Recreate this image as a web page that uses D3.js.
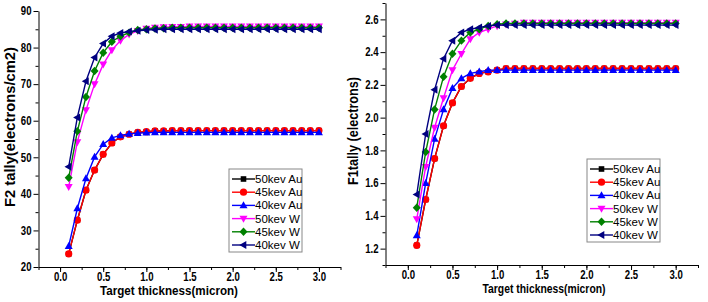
<!DOCTYPE html>
<html>
<head>
<meta charset="utf-8">
<script src="https://cdn.jsdelivr.net/npm/d3@7"></script>
<style>
  body { margin: 0; background: #fff; }
  text { font-family: Arial, "Liberation Sans", sans-serif; }
</style>
</head>
<body>
<svg id="chart" width="708" height="302"></svg>
<script>
// thickness values (micron), one per point
const thickness = [0.1, 0.2, 0.3, 0.4, 0.5, 0.6, 0.7, 0.8, 0.9, 1.0,
  1.1, 1.2, 1.3, 1.4, 1.5, 1.6, 1.7, 1.8, 1.9, 2.0,
  2.1, 2.2, 2.3, 2.4, 2.5, 2.6, 2.7, 2.8, 2.9, 3.0];

const seriesNames = ["50kev Au", "45kev Au", "40kev Au", "50kev W", "45kev W", "40kev W"];
const seriesColors = ["#000000", "#ff0000", "#0000ff", "#ff00ff", "#008000", "#000080"];
const seriesMarkers = ["square", "circle", "up", "down", "diamond", "left"];

// F2 tally (electrons/cm2)
const f2Au50 = [23.6, 32.8, 41.0, 46.5, 50.8, 53.9, 55.6, 56.3, 56.8, 57.0,
  57.2, 57.2, 57.3, 57.3, 57.3, 57.3, 57.3, 57.3, 57.3, 57.3,
  57.3, 57.3, 57.3, 57.3, 57.3, 57.3, 57.3, 57.3, 57.3, 57.3];
const f2Au45 = [23.6, 32.8, 41.0, 46.5, 50.8, 53.9, 55.6, 56.3, 56.8, 57.0,
  57.2, 57.2, 57.3, 57.3, 57.3, 57.3, 57.3, 57.3, 57.3, 57.3,
  57.3, 57.3, 57.3, 57.3, 57.3, 57.3, 57.3, 57.3, 57.3, 57.3];
const f2Au40 = [25.7, 36.0, 44.2, 50.1, 53.6, 55.3, 56.0, 56.4, 56.6, 56.7,
  56.8, 56.8, 56.8, 56.8, 56.8, 56.8, 56.8, 56.8, 56.8, 56.8,
  56.8, 56.8, 56.8, 56.8, 56.8, 56.8, 56.8, 56.8, 56.8, 56.8];
const f2W50 = [41.9, 54.2, 62.9, 70.0, 75.4, 79.3, 81.9, 83.6, 84.6, 85.2,
  85.5, 85.6, 85.7, 85.7, 85.8, 85.8, 85.8, 85.8, 85.8, 85.8,
  85.8, 85.8, 85.8, 85.8, 85.8, 85.8, 85.8, 85.8, 85.8, 85.8];
const f2W45 = [44.4, 57.1, 66.5, 73.6, 78.6, 81.6, 83.1, 84.1, 84.8, 85.0,
  85.2, 85.3, 85.4, 85.4, 85.4, 85.4, 85.4, 85.4, 85.4, 85.4,
  85.4, 85.4, 85.4, 85.4, 85.4, 85.4, 85.4, 85.4, 85.4, 85.4];
const f2W40 = [47.4, 60.9, 70.8, 77.3, 81.1, 83.1, 84.0, 84.4, 84.6, 84.8,
  84.9, 85.0, 85.0, 85.0, 85.0, 85.0, 85.0, 85.0, 85.0, 85.0,
  85.0, 85.0, 85.0, 85.0, 85.0, 85.0, 85.0, 85.0, 85.0, 85.0];

// F1 tally (electrons)
const f1Au50 = [1.22, 1.50, 1.75, 1.95, 2.09, 2.19, 2.24, 2.27, 2.28, 2.29,
  2.30, 2.30, 2.30, 2.30, 2.30, 2.30, 2.30, 2.30, 2.30, 2.30,
  2.30, 2.30, 2.30, 2.30, 2.30, 2.30, 2.30, 2.30, 2.30, 2.30];
const f1Au45 = [1.22, 1.50, 1.75, 1.95, 2.09, 2.19, 2.24, 2.27, 2.28, 2.29,
  2.30, 2.30, 2.30, 2.30, 2.30, 2.30, 2.30, 2.30, 2.30, 2.30,
  2.30, 2.30, 2.30, 2.30, 2.30, 2.30, 2.30, 2.30, 2.30, 2.30];
const f1Au40 = [1.28, 1.60, 1.87, 2.05, 2.18, 2.24, 2.27, 2.28, 2.29, 2.29,
  2.29, 2.29, 2.29, 2.29, 2.29, 2.29, 2.29, 2.29, 2.29, 2.29,
  2.29, 2.29, 2.29, 2.29, 2.29, 2.29, 2.29, 2.29, 2.29, 2.29];
const f1W50 = [1.38, 1.70, 1.94, 2.12, 2.29, 2.39, 2.48, 2.52, 2.54, 2.56,
  2.57, 2.575, 2.58, 2.58, 2.58, 2.58, 2.58, 2.58, 2.58, 2.58,
  2.58, 2.58, 2.58, 2.58, 2.58, 2.58, 2.58, 2.58, 2.58, 2.58];
const f1W45 = [1.45, 1.79, 2.05, 2.25, 2.39, 2.47, 2.52, 2.54, 2.56, 2.57,
  2.575, 2.575, 2.575, 2.575, 2.575, 2.575, 2.575, 2.575, 2.575, 2.575,
  2.575, 2.575, 2.575, 2.575, 2.575, 2.575, 2.575, 2.575, 2.575, 2.575];
const f1W40 = [1.53, 1.90, 2.17, 2.36, 2.47, 2.52, 2.54, 2.55, 2.56, 2.565,
  2.565, 2.565, 2.565, 2.565, 2.565, 2.565, 2.565, 2.565, 2.565, 2.565,
  2.565, 2.565, 2.565, 2.565, 2.565, 2.565, 2.565, 2.565, 2.565, 2.565];

const xTicks = [0.0, 0.5, 1.0, 1.5, 2.0, 2.5, 3.0];
const f2Ticks = [20, 30, 40, 50, 60, 70, 80, 90];
const f1Ticks = [1.2, 1.4, 1.6, 1.8, 2.0, 2.2, 2.4, 2.6];

const svg = d3.select("#chart");

// marker shapes, centred on 0,0
function markerPath(type) {
  switch (type) {
    case "square": return "M-2.8,-2.8h5.6v5.6h-5.6z";
    case "up": return "M0,-4.2L4,2.8L-4,2.8Z";
    case "down": return "M0,4.2L4,-2.8L-4,-2.8Z";
    case "diamond": return "M0,-4.2L4,0L0,4.2L-4,0Z";
    case "left": return "M-4.2,0L2.8,-4L2.8,4Z";
  }
  return null;
}

function addMarker(g, type, color, x, y) {
  if (type == "circle") {
    g.append("circle").attr("cx", x).attr("cy", y).attr("r", 3.6).attr("fill", color);
  } else {
    g.append("path").attr("d", markerPath(type))
      .attr("transform", "translate(" + x + "," + y + ")")
      .attr("fill", color);
  }
}

// squeeze text horizontally, the original fonts are narrow
function squeeze(sel, k) {
  sel.each(function() {
    let w = this.getComputedTextLength();
    d3.select(this).attr("textLength", w * k).attr("lengthAdjust", "spacingAndGlyphs");
  });
}

function drawPanel(p) {
  let x = d3.scaleLinear().domain([-0.25, 3.25]).range(p.xRange);
  let y = d3.scaleLinear().domain(p.yDomain).range(p.yRange);
  let g = svg.append("g");

  // minor ticks
  g.append("g")
    .attr("transform", "translate(0," + p.yRange[0] + ")")
    .call(d3.axisBottom(x).tickValues(d3.range(-0.25, 3.3, 0.25)).tickSize(3).tickFormat("").tickSizeOuter(0))
    .call(a => a.select(".domain").remove());
  g.append("g")
    .attr("transform", "translate(" + p.xRange[0] + ",0)")
    .call(d3.axisLeft(y).tickValues(p.minor).tickSize(3).tickFormat("").tickSizeOuter(0))
    .call(a => a.select(".domain").remove());

  let xAxis = g.append("g")
    .attr("transform", "translate(0," + p.yRange[0] + ")")
    .call(d3.axisBottom(x).tickValues(xTicks).tickSize(5).tickPadding(0).tickSizeOuter(0).tickFormat(d3.format(".1f")));
  let yAxis = g.append("g")
    .attr("transform", "translate(" + p.xRange[0] + ",0)")
    .call(d3.axisLeft(y).tickValues(p.ticks).tickSize(5).tickPadding(2).tickSizeOuter(0).tickFormat(p.fmt));

  [xAxis, yAxis].forEach(a => {
    a.attr("font-size", null).attr("font-family", null);
    a.selectAll("text").attr("font-size", 12).attr("font-weight", "bold").attr("fill", "#000");
    a.selectAll("line, path").attr("stroke", "#000");
    squeeze(a.selectAll("text"), 0.8);
  });

  // series
  let line = d3.line().x(d => x(d[0])).y(d => y(d[1]));
  p.series.forEach((vals, i) => {
    let pts = thickness.map((t, j) => [t, vals[j]]);
    g.append("path").datum(pts).attr("d", line)
      .attr("fill", "none").attr("stroke", seriesColors[i]).attr("stroke-width", 1.4);
    pts.forEach(d => addMarker(g, seriesMarkers[i], seriesColors[i], x(d[0]), y(d[1])));
  });

  // axis titles
  g.append("text")
    .attr("x", p.xTitle[0]).attr("y", p.xTitle[1])
    .attr("text-anchor", "middle").attr("font-size", 13.5).attr("font-weight", "bold")
    .attr("textLength", p.xTitle[2]).attr("lengthAdjust", "spacingAndGlyphs")
    .text("Target thickness(micron)");
  g.append("text")
    .attr("transform", "translate(" + p.yTitle[0] + "," + p.yTitle[1] + ") rotate(-90)")
    .attr("text-anchor", "middle").attr("font-size", 14).attr("font-weight", "bold")
    .attr("textLength", p.yTitle[2]).attr("lengthAdjust", "spacingAndGlyphs")
    .text(p.yLabel);

  // legend
  let lg = g.append("g").attr("transform", "translate(" + p.legend[0] + "," + p.legend[1] + ")");
  lg.append("rect").attr("width", 73).attr("height", 83)
    .attr("fill", "#fff").attr("stroke", "#888").attr("stroke-width", 1);
  seriesNames.forEach((name, i) => {
    let yy = 10 + i * 13.2;
    lg.append("line").attr("x1", 3).attr("x2", 26).attr("y1", yy).attr("y2", yy)
      .attr("stroke", seriesColors[i]).attr("stroke-width", 1.4);
    addMarker(lg, seriesMarkers[i], seriesColors[i], 14.5, yy);
    lg.append("text").attr("x", 26).attr("y", yy + 4)
      .attr("font-size", 11.5).attr("fill", "#000").text(name);
  });
}

drawPanel({
  xRange: [38.5, 340.5],
  yDomain: [20, 90],
  yRange: [267, 11],
  ticks: f2Ticks,
  minor: d3.range(25, 90, 10),
  fmt: d3.format("d"),
  series: [f2Au50, f2Au45, f2Au40, f2W50, f2W45, f2W40],
  xTitle: [169, 295, 138],
  yTitle: [15, 127, 160],
  yLabel: "F2 tally(electrons/cm2)",
  legend: [229, 169]
});

drawPanel({
  xRange: [385.5, 698],
  yDomain: [1.1, 2.7],
  yRange: [265, 3],
  ticks: f1Ticks,
  minor: [1.1, 1.3, 1.5, 1.7, 1.9, 2.1, 2.3, 2.5, 2.7],
  fmt: d3.format(".1f"),
  series: [f1Au50, f1Au45, f1Au40, f1W50, f1W45, f1W40],
  xTitle: [544, 293, 123],
  yTitle: [358, 131, 108],
  yLabel: "F1tally (electrons)",
  legend: [587, 159]
});
</script>
</body>
</html>
